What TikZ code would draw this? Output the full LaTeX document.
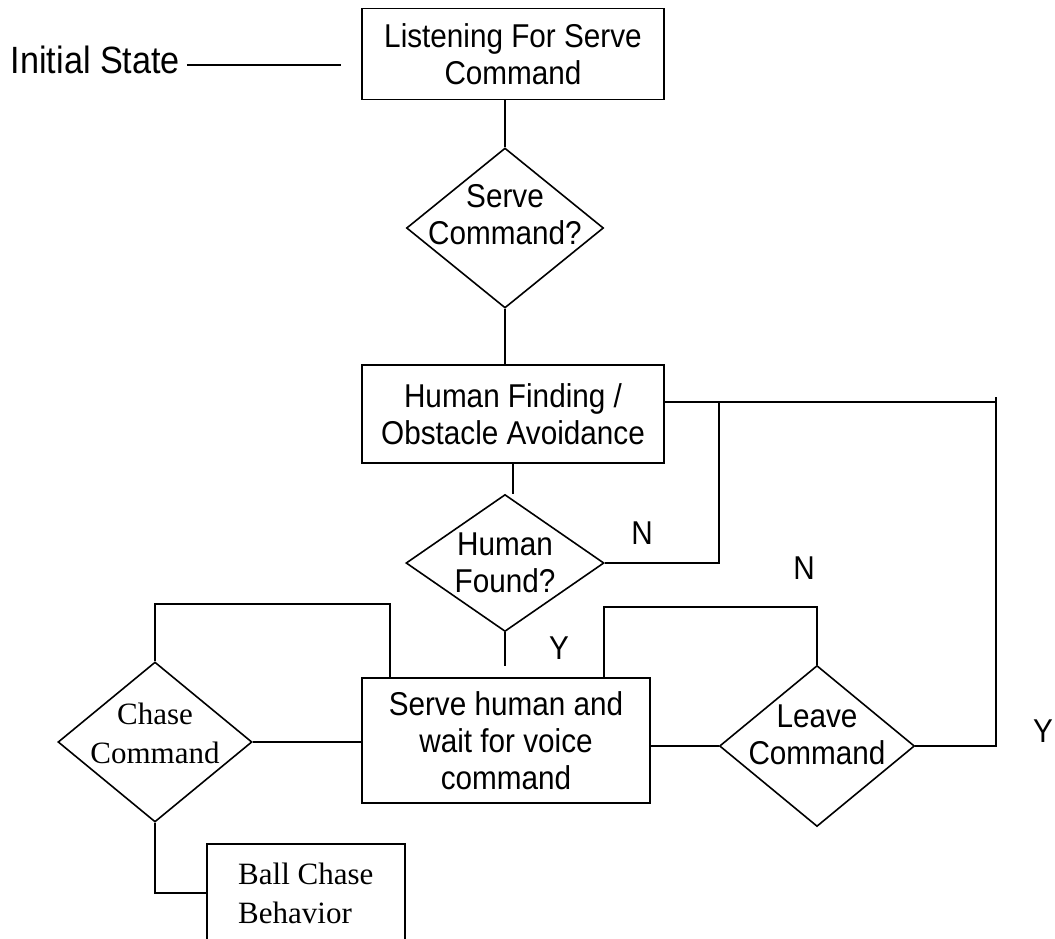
\documentclass[tikz,border=0pt]{standalone}
\usepackage{fontspec}
\setmainfont[FakeStretch=0.9]{Liberation Sans}
\newfontfamily\timesfont{Liberation Serif}
\usetikzlibrary{shapes.geometric, positioning, calc}

\newcommand\flowfont{\fontsize{33}{37}\selectfont}
\newcommand\serifflow{\timesfont\fontsize{31}{39}\selectfont}
\newcommand\initfont{\fontsize{38}{44}\selectfont}

\begin{document}
\begin{tikzpicture}[x=1pt, y=-1pt, line width=1.6pt,
  every node/.style={inner sep=0pt},
  box/.style={draw, rectangle, align=center, font=\flowfont},
  choice/.style={draw, diamond, align=center, font=\flowfont, inner sep=-40pt},
  tag/.style={font=\flowfont}]
  \useasboundingbox (0,0) rectangle (1055,938);
  \clip (0,0) rectangle (1055,938);

  % start
  \node (init) [font=\initfont, anchor=base west] at (10,73) {Initial State};
  \coordinate (initend) at (341,65);
  \draw ([xshift=6pt]init.east |- initend) -- (initend);

  % main column
  \node (listen) [box, minimum width=302, minimum height=91] at (513,54) {Listening For Serve\\Command};
  \node (servecmd) [choice, minimum width=197, minimum height=160, text depth=28pt] at (505,228) {Serve\\Command?};
  \node (hfind) [box, minimum width=302, minimum height=98] at (513,414) {Human Finding /\\Obstacle Avoidance};
  \node (found) [choice, minimum width=198, minimum height=137] at (505,563) {Human\\Found?};
  \node (serve) [box, minimum width=288, minimum height=125] at (506,740.5) {Serve human and\\wait for voice\\command};
  \node (leave) [choice, minimum width=195, minimum height=161, text depth=22pt] at (817,746) {Leave\\Command};

  % chase branch
  \node (chase) [choice, font=\serifflow, minimum width=194, minimum height=160, text depth=18pt] at (155,742) {Chase\\Command};
  \node (ball) [draw, font=\serifflow, align=left, anchor=north west, inner xsep=19pt, inner ysep=19pt, minimum width=198] at (206,843) {Ball Chase\\Behavior};

  % labels
  \node (nfound) [tag] at (642,533) {N};
  \node (nleave) [tag] at (804,568) {N};
  \node (yfound) [tag] at (559,648) {Y};
  \node (yleave) [tag] at (1043,731) {Y};

  % connectors
  \draw (servecmd.north |- listen.south) -- (servecmd.north);
  \draw (servecmd.south) -- (servecmd.south |- hfind.north);
  \draw (hfind.south) -- (hfind.south |- found.north);

  \coordinate (njoin) at (719,402);
  \draw (found.east) -- (found.east -| njoin) -- (njoin);
  \coordinate (ycorner) at (996,402);
  \draw (leave.east) -- (leave.east -| ycorner) -- ([yshift=5pt]ycorner);
  \draw (ycorner) -- (hfind.east |- ycorner);

  \coordinate (ystub) at (505,666);
  \draw (found.south) -- (ystub);

  \draw (serve.east |- leave.west) -- (leave.west);
  \coordinate (nloop) at (812,607);
  \draw ([xshift=98pt]serve.north) -- ([xshift=98pt]serve.north |- nloop) -- (nloop -| leave.north) -- (leave.north);

  \draw (chase.east) -- (chase.east -| serve.west);
  \coordinate (cloop) at (390,604);
  \draw (chase.north) -- (chase.north |- cloop) -- (cloop) -- (cloop |- serve.north);
  \draw (chase.south) -- (chase.south |- ball.west) -- (ball.west);
\end{tikzpicture}
\end{document}
